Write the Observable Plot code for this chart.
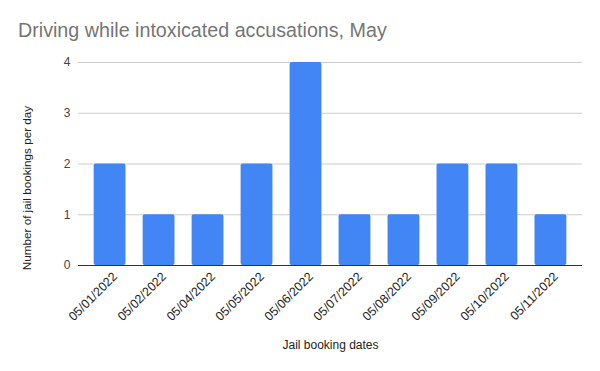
<!DOCTYPE html>
<html>
<head>
<meta charset="utf-8">
<script src="https://cdn.jsdelivr.net/npm/d3@7"></script>
<script src="https://cdn.jsdelivr.net/npm/@observablehq/plot@0.6"></script>
<style>
  body { margin: 0; background: #fff; font-family: "Liberation Sans", Arial, sans-serif; }
  #wrap { position: relative; width: 600px; height: 371px; overflow: hidden; }
  #title { position: absolute; left: 18px; top: 19px; font-family: "Liberation Sans", Arial, sans-serif; font-size: 19.7px; color: #757575; white-space: nowrap; }
  #chart { position: absolute; left: 0; top: 50px; }
</style>
</head>
<body>
<div id="wrap">
  <div id="title">Driving while intoxicated accusations, May</div>
  <div id="chart"></div>
</div>
<script>
const dates = ["05/01/2022","05/02/2022","05/04/2022","05/05/2022","05/06/2022","05/07/2022","05/08/2022","05/09/2022","05/10/2022","05/11/2022"];
const bookings = [2, 1, 1, 2, 4, 1, 1, 2, 2, 1];
const yTicks = [0, 1, 2, 3, 4];

const data = dates.map((d, i) => ({date: d, value: bookings[i]}));

const chart = Plot.plot({
  width: 600,
  height: 321,
  marginTop: 12,
  marginBottom: 106,
  marginLeft: 78,
  marginRight: 18,
  style: {fontFamily: "Liberation Sans, Arial, sans-serif", fontSize: "12px", color: "#222"},
  x: {domain: dates, paddingInner: 0.35, paddingOuter: 0.32, round: false},
  y: {domain: [0, 4]},
  marks: [
    Plot.gridY(yTicks, {stroke: "#cccccc", strokeOpacity: 1}),
    Plot.axisY(yTicks, {tickSize: 0, tickPadding: 8, tickFormat: d3.format("d"), label: null, fontSize: 12, fill: "#444"}),
    Plot.text(["Number of jail bookings per day"], {frameAnchor: "left", textAnchor: "middle", rotate: -90, dx: -51, dy: 24, fontSize: 11.7, fill: "#222"}),
    Plot.axisX({tickSize: 0, tickRotate: -45, tickPadding: 6, dx: 5, dy: 3, label: null, fontSize: 12.5, fill: "#222"}),
    Plot.text(["Jail booking dates"], {frameAnchor: "bottom", dy: 83, fontSize: 12, fill: "#222"}),
    Plot.barY(data, {x: "date", y: "value", fill: "#4285F4", rx: 2}),
    Plot.ruleY([0], {stroke: "#333", strokeWidth: 1})
  ]
});
document.getElementById("chart").appendChild(chart);
</script>
</body>
</html>
